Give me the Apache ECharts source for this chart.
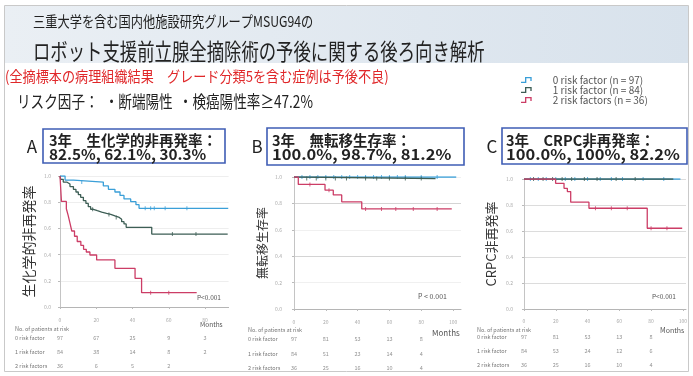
<!DOCTYPE html>
<html>
<head>
<meta charset="utf-8">
<script src="https://cdn.jsdelivr.net/npm/echarts@6/dist/echarts.min.js"></script>
<style>
html,body{margin:0;padding:0;background:#fff;}
#c{width:693px;height:376px;}
</style>
</head>
<body>
<div id="c"></div>
<script>
// Kaplan-Meier estimates, [months, survival fraction]
const seriesNames = ['0 risk factor (n = 97)', '1 risk factor (n = 84)', '2 risk factors (n = 36)'];
const rowLabels = ['0 risk factor', '1 risk factor', '2 risk factors'];

// A: biochemical recurrence-free
const bcrZero = [[0,1],[2.8,0.969],[7.4,0.954],[23.9,0.924],[26.7,0.898],[30.3,0.878],[33.1,0.852],[35.3,0.825],[39.0,0.804],[41.9,0.781],[43.6,0.753],[92.8,0.753]];
const bcrOne = [[0,1],[0.4,0.975],[1.8,0.954],[3.7,0.939],[5.5,0.919],[7.4,0.898],[8.8,0.878],[10.1,0.858],[11.4,0.837],[12.9,0.812],[14.3,0.791],[15.6,0.766],[16.9,0.746],[18.4,0.735],[20.6,0.725],[23.0,0.715],[25.7,0.707],[28.0,0.695],[30.3,0.684],[32.7,0.669],[34.0,0.651],[35.3,0.634],[36.5,0.608],[50.6,0.557],[92.5,0.557]];
const bcrTwo = [[0,1],[0.8,0.806],[3.5,0.75],[4.5,0.70],[5.5,0.64],[6.5,0.58],[8.0,0.54],[9.5,0.50],[11.5,0.47],[13.0,0.44],[14.5,0.42],[16.5,0.397],[20.2,0.359],[30.3,0.295],[41.4,0.219],[45.0,0.109],[75.4,0.109]];

// B: metastasis-free survival
const mfsZero = [[0,1],[102,1]];
const mfsOne = [[0,1],[5,0.988],[89,0.988]];
const mfsTwo = [[0,1],[2.7,0.944],[19.5,0.90],[24.7,0.864],[30.0,0.812],[42.6,0.758],[99.2,0.758]];

// C: CRPC-free
const crpcZero = [[0,1],[98.5,1]];
const crpcOne = [[0,1],[94,1]];
const crpcTwo = [[0,1],[19.9,0.967],[25.2,0.928],[27.3,0.903],[29.4,0.822],[40.9,0.775],[77.6,0.621],[99.6,0.621]];

// censoring times (months)
const censorA = [[12,47,50,52,58,70],[18,27,31,62,75],[50,60]];
const censorB = [[5,10,15,20,25,30,35,40,45,50,55,60,65,70,80,90],[8,14,20,26,33,45,52,60,70,80],[10,22,45,55,64,75,90]];
const censorC = [[4,9,14,20,26,32,40,48,55,62,75,88],[6,12,18,24,30,38,46,58,70],[45,55,65,80,90]];

// numbers at risk at these months
const riskMonths = [0, 20, 40, 60, 80];
const riskA = [[97,67,25,9,3],[84,38,14,8,2],[36,6,5,2,null]];
const riskB = [[97,81,53,13,8],[84,51,23,14,4],[36,25,16,10,4]];
const riskC = [[97,81,53,13,8],[84,53,24,12,6],[36,25,16,10,4]];

const headings = ['3年　生化学的非再発率：', '3年　無転移生存率：', '3年　CRPC非再発率：'];
const rates = ['82.5%, 62.1%, 30.3%', '100.0%, 98.7%, 81.2%', '100.0%, 100%, 82.2%'];
const yNames = ['生化学的非再発率', '無転移生存率', 'CRPC非再発率'];
const letters = ['A', 'B', 'C'];

const FONT = "'Noto Sans CJK JP','Noto Sans',sans-serif";
const colors = ['#3a9fd8', '#3d5e55', '#cc3d66'];

const panels = [
  {curves:[bcrZero,bcrOne,bcrTwo], censor:censorA, risk:riskA,
   grid:{left:60, top:176, width:168.6, height:131}, xMax:93, yOff:0, xOff:8, nameGap:24, nameSize:14, yLabMargin:9,
   riskGrid:{left:60, top:331, width:168.6, height:42}, riskMargin:45,
   box:[43,129,182,34], textX:49, rateSx:1.02, letterX:32,
   p:{x:197,y:298,t:'P<0.001',s:6.5}, mon:{x:200,y:325,s:6.5}, head:{x:15,y:329}, splitColor:['#eeeeee']},
  {curves:[mfsZero,mfsOne,mfsTwo], censor:censorB, risk:riskB,
   grid:{left:294, top:177, width:167, height:132}, xMax:105, yOff:8, xOff:8, nameGap:18, nameSize:12, yLabMargin:4,
   riskGrid:{left:294, top:332, width:167, height:43}, riskMargin:46,
   box:[267,128,197,37], textX:272, rateSx:1.1, letterX:257,
   p:{x:418,y:296,t:'P < 0.001',s:7}, mon:{x:432,y:333,s:8}, head:{x:248,y:330}, splitColor:['#d4d4d4','#f0f0f0']},
  {curves:[crpcZero,crpcOne,crpcTwo], censor:censorC, risk:riskC,
   grid:{left:524, top:179, width:162, height:130}, xMax:102, yOff:7, xOff:7, nameGap:19, nameSize:13, yLabMargin:4,
   riskGrid:{left:524, top:330.5, width:162, height:41}, riskMargin:47,
   box:[502,128,185,36], textX:506, rateSx:1.1, letterX:492,
   p:{x:652,y:297,t:'P<0.001',s:6.5}, mon:{x:660,y:330,s:7}, head:{x:477,y:330}, splitColor:['#dcdcdc']}
];

function stepAt(curve, t) {
  let v = curve[0][1];
  for (const [m, s] of curve) { if (m <= t) v = s; }
  return v;
}

const grids = [], xAxes = [], yAxes = [], series = [], graphics = [];

// slide frame and header band
graphics.push({type:'rect', shape:{x:4.5,y:5.5,width:684,height:366}, style:{fill:'#fff', stroke:'#c9c9c9', lineWidth:1}, z:-10});
graphics.push({type:'rect', shape:{x:5,y:6,width:683,height:57}, z:-9,
  style:{fill:new echarts.graphic.LinearGradient(0,0,1,0,[{offset:0,color:'#eaeff4'},{offset:1,color:'#d8e2ec'}])}});

function txt(x, y, text, size, opts) {
  opts = opts || {};
  return {type:'text', x:x, y:y, z:5, scaleX:opts.sx || 1,
    style:{text:text, fontSize:size, fontFamily:FONT, fontWeight:opts.bold ? 'bold' : 'normal',
      fill:opts.fill || '#222', textVerticalAlign:'middle', verticalAlign:'middle',
      textAlign:opts.align || 'left', align:opts.align || 'left'}};
}

graphics.push(txt(33, 21.5, '三重大学を含む国内他施設研究グループMSUG94の', 15, {sx:0.815}));
graphics.push(txt(33, 51, 'ロボット支援前立腺全摘除術の予後に関する後ろ向き解析', 23, {sx:0.755}));
graphics.push(txt(5, 76.5, '(全摘標本の病理組織結果　グレード分類5を含む症例は予後不良)', 15, {sx:0.875, fill:'#e0282a'}));
graphics.push(txt(17, 102, 'リスク因子：  ・断端陽性  ・検癌陽性率≥47.2%', 17, {sx:0.8}));

panels.forEach((p, i) => {
  const g = i * 2;
  grids.push(Object.assign({}, p.grid));
  grids.push(Object.assign({}, p.riskGrid));

  xAxes.push({type:'value', gridIndex:g, min:0, max:p.xMax, interval:20, offset:p.xOff,
    axisLine:{lineStyle:{color:'#b5b5b5', width:1}},
    axisTick:{show:true, length:2, lineStyle:{color:'#bbb'}},
    axisLabel:{fontSize:5, color:'#aaa', margin:3, showMaxLabel:false, fontFamily:FONT},
    splitLine:{show:false}});
  xAxes.push({type:'value', gridIndex:g+1, min:0, max:p.xMax, show:false});

  yAxes.push({type:'value', gridIndex:g, min:0, max:1, interval:0.2, offset:p.yOff,
    axisLine:{show:true, lineStyle:{color:'#c4c4c4', width:1}},
    axisTick:{show:true, length:2, lineStyle:{color:'#bbb'}},
    axisLabel:{fontSize:5, color:'#aaa', margin:p.yLabMargin, formatter:v => v.toFixed(1), fontFamily:FONT},
    splitLine:{show:true, lineStyle:{color:p.splitColor, width:1}},
    name:yNames[i], nameLocation:'middle', nameGap:p.nameGap, nameRotate:90,
    nameTextStyle:{fontSize:p.nameSize, color:'#333', fontFamily:FONT}});
  yAxes.push({type:'category', gridIndex:g+1, data:rowLabels, inverse:true,
    axisLine:{show:false}, axisTick:{show:false}, splitLine:{show:false},
    axisLabel:{fontSize:5.5, color:'#777', align:'left', margin:p.riskMargin, fontFamily:FONT}});

  p.curves.forEach((c, k) => {
    series.push({type:'line', name:seriesNames[k], xAxisIndex:g, yAxisIndex:g, data:c, step:'end',
      symbol:'none', showSymbol:false, silent:true, z:3+k,
      lineStyle:{color:colors[k], width:1.3}, itemStyle:{color:colors[k]}});
    series.push({type:'scatter', name:seriesNames[k], xAxisIndex:g, yAxisIndex:g, silent:true, z:3+k,
      data:p.censor[k].map(t => [t, stepAt(c, t)]),
      symbol:'rect', symbolSize:[1,4], itemStyle:{color:colors[k]}});
  });

  const riskData = [];
  p.risk.forEach((row, r) => row.forEach((n, cI) => {
    if (n !== null) riskData.push([riskMonths[cI], r, n]);
  }));
  series.push({type:'scatter', xAxisIndex:g+1, yAxisIndex:g+1, data:riskData, silent:true,
    symbolSize:1, itemStyle:{color:'rgba(0,0,0,0)'},
    label:{show:true, position:'inside', formatter:d => String(d.value[2]), fontSize:5.5, color:'#777', fontFamily:FONT}});

  // heading box
  graphics.push({type:'rect', z:4, shape:{x:p.box[0], y:p.box[1], width:p.box[2], height:p.box[3]},
    style:{fill:'#fff', stroke:'#3f5db5', lineWidth:1.6}});
  graphics.push(txt(p.textX, 140, headings[i], 14.5, {bold:true}));
  graphics.push(txt(p.textX, 154, rates[i], 15, {bold:true, sx:p.rateSx}));
  graphics.push(txt(p.letterX, 147, letters[i], 17, {align:'center'}));
  graphics.push(txt(p.p.x, p.p.y, p.p.t, p.p.s, {fill:'#555'}));
  graphics.push(txt(p.mon.x, p.mon.y, 'Months', p.mon.s, {fill:'#555'}));
  graphics.push(txt(p.head.x, p.head.y, 'No. of patients at risk', 5.5, {fill:'#777'}));
});

const chart = echarts.init(document.getElementById('c'), null, {renderer:'canvas'});
chart.setOption({
  animation:false,
  backgroundColor:'#ffffff',
  textStyle:{fontFamily:FONT},
  legend:{data:seriesNames, orient:'vertical', left:516, top:70, itemWidth:15, itemHeight:6, itemGap:0,
    selectedMode:false,
    icon:'path://M0,7L6,7L6,0L16,0L16,6L14,6L14,2L8,2L8,9L0,9Z',
    textStyle:{fontSize:10, color:'#555', lineHeight:9, padding:[0,0,0,14], fontFamily:FONT}},
  grid:grids, xAxis:xAxes, yAxis:yAxes, series:series, graphic:graphics
});
</script>
</body>
</html>
